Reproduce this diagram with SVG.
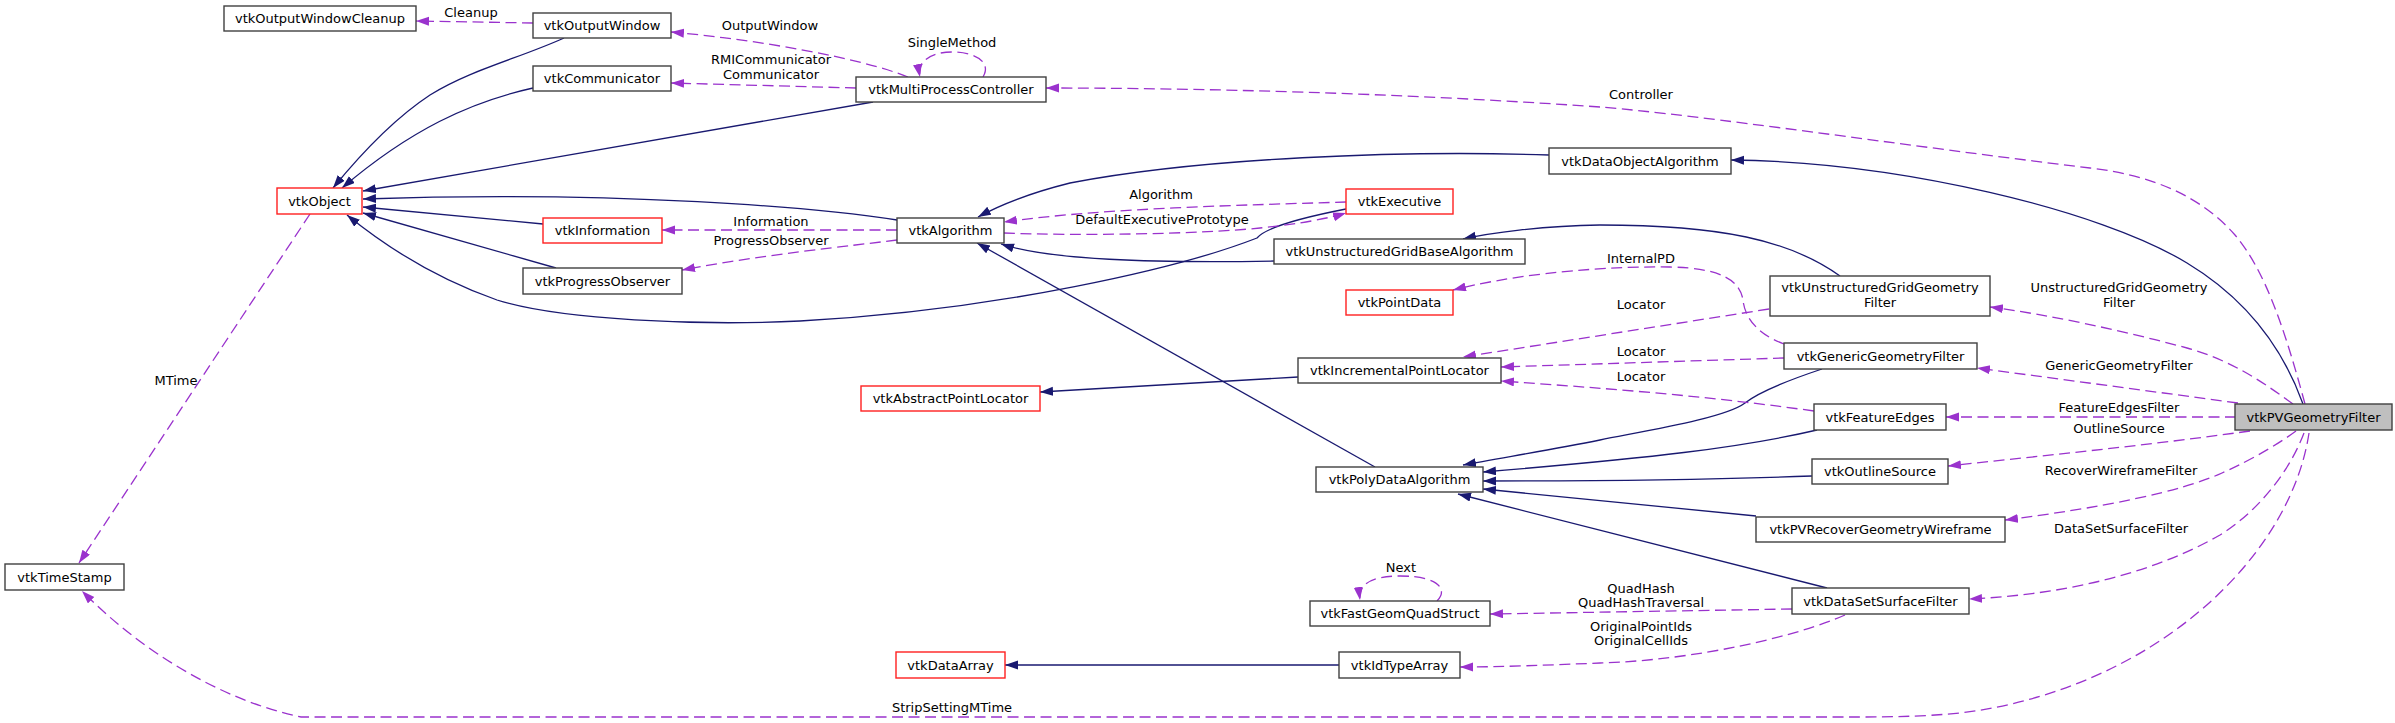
<svg xmlns="http://www.w3.org/2000/svg" width="2395" height="723" viewBox="0 0 2395 723">
<style>
.n rect{fill:#ffffff;stroke:#404040;stroke-width:1.4}
.r rect{stroke:#ff2020}
.g rect{fill:#bfbfbf}
text{font-family:"DejaVu Sans",sans-serif;font-size:13px;fill:#000;text-anchor:middle}
.s{fill:none;stroke:#191970;stroke-width:1.3;marker-end:url(#an)}
.d{fill:none;stroke:#9a32cd;stroke-width:1.3;stroke-dasharray:11,5.5;marker-end:url(#ap)}
</style>
<defs>
<marker id="an" markerUnits="userSpaceOnUse" markerWidth="14" markerHeight="10" refX="13" refY="4.5" orient="auto"><path d="M0,0 L13,4.5 L0,9 z" fill="#191970"/></marker>
<marker id="ap" markerUnits="userSpaceOnUse" markerWidth="14" markerHeight="10" refX="13" refY="4.5" orient="auto"><path d="M0,0 L13,4.5 L0,9 z" fill="#9a32cd"/></marker>
</defs>
<rect width="2395" height="723" fill="#ffffff"/>
<g id="edges">
<path class="s" d="M564,38 C520,58 470,70 430,95 C395,118 360,155 333,188"/>
<path class="s" d="M533,88 C470,102 410,130 342,188"/>
<path class="s" d="M873,102 L363,191"/>
<path class="s" d="M897,220 C820,208 620,190 363,199"/>
<path class="s" d="M543,224 L363,207"/>
<path class="s" d="M556,268 L363,213"/>
<path class="s" d="M1346,209 C1300,218 1265,228 1257,238 C1180,268 1000,310 800,321 C700,326 560,320 497,300 C440,280 390,250 347,215"/>
<path class="s" d="M1549,155 C1400,150 1200,158 1070,183 C1030,193 1000,205 978,217"/>
<path class="s" d="M1274,261 C1150,263 1050,260 1001,244"/>
<path class="s" d="M1375,467 L977,243"/>
<path class="s" d="M1840,276 C1790,240 1720,225 1600,225 C1540,226 1490,233 1463,239"/>
<path class="s" d="M2303,404 C2280,340 2240,295 2187,263 C2100,210 1900,162 1731,160"/>
<path class="s" d="M1298,377 L1040,392"/>
<path class="s" d="M1822,369 C1780,383 1755,395 1745,403 C1725,418 1650,430 1600,440 C1550,450 1500,458 1463,465"/>
<path class="s" d="M1817,430 C1740,448 1650,458 1483,472"/>
<path class="s" d="M1812,476 C1700,480 1600,481 1483,481"/>
<path class="s" d="M1756,516 L1483,489"/>
<path class="s" d="M1827,588 L1458,494"/>
<path class="s" d="M1339,665 L1005,665"/>
<path class="d" d="M533,23 L416,21"/>
<path class="d" d="M908,77 C860,58 760,40 671,32"/>
<path class="d" d="M856,88 L671,83"/>
<path class="d" d="M983,77 C992,62 975,52 952,52 C930,52 917,62 920,77"/>
<path class="d" d="M2305,404 C2285,330 2265,270 2235,235 C2200,195 2150,175 2090,168 C1900,145 1700,115 1600,107 C1400,93 1200,88 1046,88"/>
<path class="d" d="M897,230 L662,230"/>
<path class="d" d="M897,240 C850,246 760,255 682,270"/>
<path class="d" d="M1346,202 C1250,205 1100,208 1004,222"/>
<path class="d" d="M1004,233 C1080,236 1200,234 1260,228 C1300,224 1330,218 1346,213"/>
<path class="d" d="M310,214 L79,563"/>
<path class="d" d="M2309,433 C2290,560 2150,690 1960,713 C1920,717 1880,717 1855,717 L301,717 C220,700 140,650 82,591"/>
<path class="d" d="M1769,309 L1463,357"/>
<path class="d" d="M1784,344 C1760,335 1745,320 1743,300 C1740,280 1720,268 1670,267 C1580,266 1500,278 1453,290"/>
<path class="d" d="M1784,358 L1501,367"/>
<path class="d" d="M1814,411 C1700,395 1600,388 1501,381"/>
<path class="d" d="M2293,404 C2260,380 2230,360 2187,348 C2120,330 2050,315 1990,307"/>
<path class="d" d="M2238,403 L1977,368"/>
<path class="d" d="M2236,417 L1946,417"/>
<path class="d" d="M2250,431 C2150,445 2050,455 1948,466"/>
<path class="d" d="M2296,431 C2270,450 2240,465 2222,473 C2180,492 2100,508 2005,520"/>
<path class="d" d="M2304,433 C2290,470 2260,510 2220,535 C2150,575 2060,595 1969,599"/>
<path class="d" d="M1792,609 L1490,614"/>
<path class="d" d="M1845,615 C1800,635 1700,660 1600,663 C1550,665 1500,667 1460,667"/>
<path class="d" d="M1437,601 C1448,590 1440,576 1400,576 C1370,576 1358,585 1360,600"/>
<text x="471" y="17">Cleanup</text>
<text x="770" y="30">OutputWindow</text>
<text x="771" y="64">RMICommunicator</text>
<text x="771" y="79">Communicator</text>
<text x="952" y="47">SingleMethod</text>
<text x="1641" y="99">Controller</text>
<text x="1161" y="199">Algorithm</text>
<text x="1162" y="224">DefaultExecutivePrototype</text>
<text x="771" y="226">Information</text>
<text x="771" y="245">ProgressObserver</text>
<text x="176" y="385">MTime</text>
<text x="1641" y="263">InternalPD</text>
<text x="1641" y="309">Locator</text>
<text x="1641" y="356">Locator</text>
<text x="1641" y="381">Locator</text>
<text x="2119" y="292">UnstructuredGridGeometry</text>
<text x="2119" y="307">Filter</text>
<text x="2119" y="370">GenericGeometryFilter</text>
<text x="2119" y="412">FeatureEdgesFilter</text>
<text x="2119" y="433">OutlineSource</text>
<text x="2121" y="475">RecoverWireframeFilter</text>
<text x="2121" y="533">DataSetSurfaceFilter</text>
<text x="1641" y="593">QuadHash</text>
<text x="1641" y="607">QuadHashTraversal</text>
<text x="1641" y="631">OriginalPointIds</text>
<text x="1641" y="645">OriginalCellIds</text>
<text x="1401" y="572">Next</text>
<text x="952" y="712">StripSettingMTime</text>
</g>
<g id="vtkOutputWindowCleanup" class="n"><rect x="224" y="6" width="192" height="25"/><text x="320" y="23">vtkOutputWindowCleanup</text></g>
<g id="vtkOutputWindow" class="n"><rect x="533" y="13" width="138" height="25"/><text x="602" y="30">vtkOutputWindow</text></g>
<g id="vtkCommunicator" class="n"><rect x="533" y="66" width="138" height="25"/><text x="602" y="83">vtkCommunicator</text></g>
<g id="vtkMultiProcessController" class="n"><rect x="856" y="77" width="190" height="25"/><text x="951" y="94">vtkMultiProcessController</text></g>
<g id="vtkObject" class="n r"><rect x="277" y="188" width="85" height="26"/><text x="319.5" y="205.5">vtkObject</text></g>
<g id="vtkInformation" class="n r"><rect x="543" y="218" width="119" height="25"/><text x="602.5" y="235">vtkInformation</text></g>
<g id="vtkProgressObserver" class="n"><rect x="523" y="268" width="159" height="26"/><text x="602.5" y="285.5">vtkProgressObserver</text></g>
<g id="vtkAlgorithm" class="n"><rect x="897" y="218" width="107" height="25"/><text x="950.5" y="235">vtkAlgorithm</text></g>
<g id="vtkExecutive" class="n r"><rect x="1346" y="189" width="107" height="25"/><text x="1399.5" y="206">vtkExecutive</text></g>
<g id="vtkDataObjectAlgorithm" class="n"><rect x="1549" y="148" width="182" height="26"/><text x="1640" y="165.5">vtkDataObjectAlgorithm</text></g>
<g id="vtkUnstructuredGridBaseAlgorithm" class="n"><rect x="1274" y="239" width="251" height="25"/><text x="1399.5" y="256">vtkUnstructuredGridBaseAlgorithm</text></g>
<g id="vtkPointData" class="n r"><rect x="1346" y="290" width="107" height="25"/><text x="1399.5" y="307">vtkPointData</text></g>
<g id="vtkUnstructuredGridGeometryFilter" class="n"><rect x="1770" y="276" width="220" height="40"/><text x="1880" y="292">vtkUnstructuredGridGeometry</text><text x="1880" y="307">Filter</text></g>
<g id="vtkIncrementalPointLocator" class="n"><rect x="1298" y="358" width="203" height="25"/><text x="1399.5" y="375">vtkIncrementalPointLocator</text></g>
<g id="vtkAbstractPointLocator" class="n r"><rect x="861" y="386" width="179" height="25"/><text x="950.5" y="403">vtkAbstractPointLocator</text></g>
<g id="vtkGenericGeometryFilter" class="n"><rect x="1784" y="343" width="193" height="26"/><text x="1880.5" y="360.5">vtkGenericGeometryFilter</text></g>
<g id="vtkFeatureEdges" class="n"><rect x="1814" y="404" width="132" height="26"/><text x="1880" y="421.5">vtkFeatureEdges</text></g>
<g id="vtkPVGeometryFilter" class="n g"><rect x="2235" y="404" width="157" height="26"/><text x="2313.5" y="421.5">vtkPVGeometryFilter</text></g>
<g id="vtkOutlineSource" class="n"><rect x="1812" y="459" width="136" height="25"/><text x="1880" y="476">vtkOutlineSource</text></g>
<g id="vtkPolyDataAlgorithm" class="n"><rect x="1316" y="467" width="167" height="25"/><text x="1399.5" y="484">vtkPolyDataAlgorithm</text></g>
<g id="vtkPVRecoverGeometryWireframe" class="n"><rect x="1756" y="517" width="249" height="25"/><text x="1880.5" y="534">vtkPVRecoverGeometryWireframe</text></g>
<g id="vtkTimeStamp" class="n"><rect x="5" y="564" width="119" height="26"/><text x="64.5" y="581.5">vtkTimeStamp</text></g>
<g id="vtkDataSetSurfaceFilter" class="n"><rect x="1792" y="588" width="177" height="26"/><text x="1880.5" y="605.5">vtkDataSetSurfaceFilter</text></g>
<g id="vtkFastGeomQuadStruct" class="n"><rect x="1310" y="601" width="180" height="25"/><text x="1400" y="618">vtkFastGeomQuadStruct</text></g>
<g id="vtkDataArray" class="n r"><rect x="896" y="652" width="109" height="26"/><text x="950.5" y="669.5">vtkDataArray</text></g>
<g id="vtkIdTypeArray" class="n"><rect x="1339" y="652" width="121" height="26"/><text x="1399.5" y="669.5">vtkIdTypeArray</text></g>
</svg>
